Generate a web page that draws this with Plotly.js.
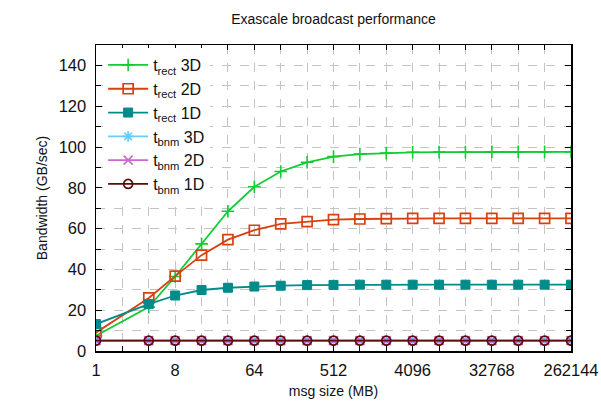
<!DOCTYPE html>
<html><head><meta charset="utf-8">
<script src="https://cdn.plot.ly/plotly-3.0.1.min.js"></script>
<style>html,body{margin:0;padding:0;background:#fff;}#chart{width:601px;height:407px;}</style>
</head><body><div id="chart"></div>
<script>
const msgSize = [1,4,8,16,32,64,128,256,512,1024,2048,4096,8192,16384,32768,65536,131072,262144];
const rect3D = [7.5,21.5,36.5,52.5,68.5,80.5,88.0,92.5,95.3,96.5,97.0,97.4,97.5,97.5,97.6,97.6,97.6,97.6];
const rect2D = [9.0,26.0,36.7,47.0,54.6,59.2,62.3,63.4,64.4,64.7,64.9,65.0,65.0,65.0,65.0,65.0,65.0,65.0];
const rect1D = [13.2,23.0,27.2,29.9,31.0,31.6,32.0,32.3,32.4,32.5,32.5,32.5,32.5,32.5,32.5,32.5,32.5,32.5];
const bnm3D = [5.1,5.1,5.1,5.1,5.1,5.1,5.1,5.1,5.1,5.1,5.1,5.1,5.1,5.1,5.1,5.1,5.1,5.1];
const bnm2D = [5.1,5.1,5.1,5.1,5.1,5.1,5.1,5.1,5.1,5.1,5.1,5.1,5.1,5.1,5.1,5.1,5.1,5.1];
const bnm1D = [5.1,5.1,5.1,5.1,5.1,5.1,5.1,5.1,5.1,5.1,5.1,5.1,5.1,5.1,5.1,5.1,5.1,5.1];
const xTickVals = [1,2,4,8,16,32,64,128,256,512,1024,2048,4096,8192,16384,32768,65536,131072,262144];
const xTickText = ['1','','','8','','','64','','','512','','','4096','','','32768','','','262144'];
const yMajorTicks = [0,20,40,60,80,100,120,140];
const yMinorTicks = [10,30,50,70,90,110,130,150];
const seriesNames = ['t<sub>rect</sub> 3D','t<sub>rect</sub> 2D','t<sub>rect</sub> 1D','t<sub>bnm</sub> 3D','t<sub>bnm</sub> 2D','t<sub>bnm</sub> 1D'];

const styles = [
  {color:'#11cc33', symbol:'cross-thin-open', size:9, lw:1.6},
  {color:'#d8400f', symbol:'square-open', size:10, lw:1.7},
  {color:'#008b8b', symbol:'square', size:9, lw:1},
  {color:'#66ccff', symbol:'asterisk-open', size:9, lw:1.6},
  {color:'#cc66cc', symbol:'x-thin-open', size:9, lw:1.6},
  {color:'#5c0b0b', symbol:'circle-open', size:9, lw:1.7}
];
const ys = [rect3D, rect2D, rect1D, bnm3D, bnm2D, bnm1D];
const traces = ys.map((y,i)=>({
  x: msgSize, y: y, name: seriesNames[i], type:'scatter', mode:'lines+markers',
  line:{color:styles[i].color, width:1.8},
  marker:{color:styles[i].color, symbol:styles[i].symbol, size:styles[i].size, line:{color:styles[i].color, width:styles[i].lw}}
}));
const gridStyle = {showgrid:true, gridcolor:'#c4c4c4', griddash:'dash', gridwidth:1};
const layout = {
  width:601, height:407,
  margin:{l:96, r:30, t:45, b:56},
  paper_bgcolor:'#fff', plot_bgcolor:'#fff',
  font:{family:'Liberation Sans, Arial, sans-serif', size:15, color:'#111'},
  title:{text:'Exascale broadcast performance', font:{size:14}, x:0.555, xanchor:'center', y:0.965, yanchor:'top'},
  xaxis:Object.assign({type:'log', range:[0, Math.log10(262144)], tickvals:xTickVals, ticktext:xTickText,
    ticks:'inside', ticklen:5, tickcolor:'#000', showline:true, linecolor:'#000', linewidth:1.5, mirror:'ticks',
    zeroline:false, tickfont:{size:16.5}, ticklabelstandoff:4,
    title:{text:'msg size (MB)', font:{size:14}, standoff:8}}, gridStyle),
  yaxis:Object.assign({range:[0,150], tickvals:yMajorTicks,
    ticks:'inside', ticklen:6, tickcolor:'#000', showline:true, linecolor:'#000', linewidth:1.5, mirror:'ticks',
    zeroline:false, tickfont:{size:16.5}, ticklabelstandoff:5,
    minor:Object.assign({tickvals:yMinorTicks, ticks:'inside', ticklen:5, tickcolor:'#000'}, gridStyle),
    title:{text:'Bandwidth (GB/sec)', font:{size:14}, standoff:8}}, gridStyle),
  legend:{x:0.015, y:0.99, xanchor:'left', yanchor:'top', bgcolor:'#fff', borderwidth:0,
    font:{size:16}, tracegroupgap:0, itemwidth:40, traceorder:'normal'},
  showlegend:true
};
Plotly.newPlot('chart', traces, layout, {displayModeBar:false, staticPlot:true});
</script></body></html>
